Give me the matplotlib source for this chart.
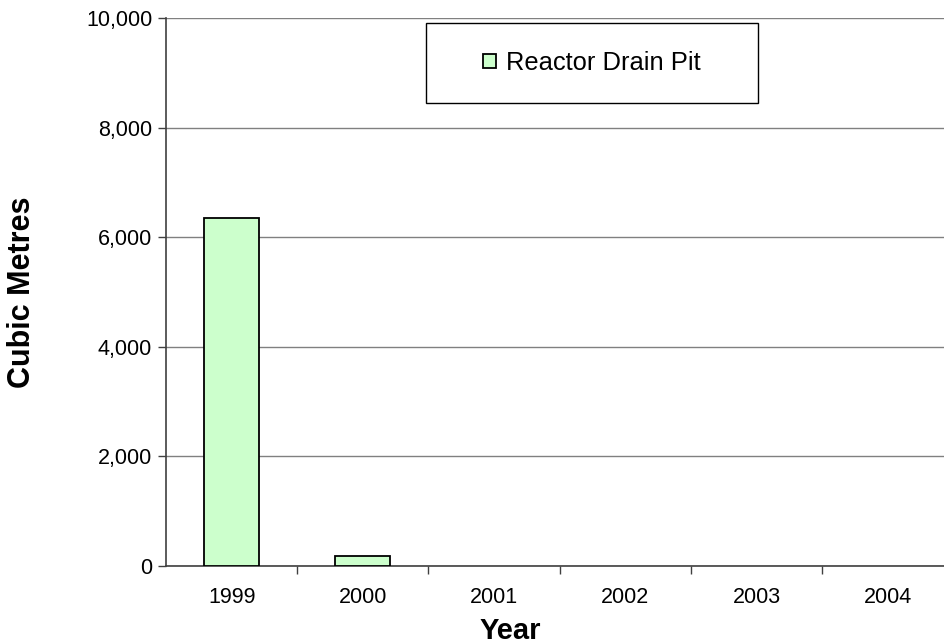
import numpy as np
import matplotlib.pyplot as plt
from matplotlib.patches import Rectangle
from matplotlib.ticker import FuncFormatter, FixedLocator

plt.rcParams['font.family'] = ['Liberation Sans', 'DejaVu Sans']

years = ['1999', '2000', '2001', '2002', '2003', '2004']
volumes = [6350, 180, 0, 0, 0, 0]
series_name = 'Reactor Drain Pit'

fig = plt.figure(figsize=(9.45, 6.44), dpi=100)
ax = fig.add_axes([0.1757, 0.1211, 0.8243, 0.8509])

x = np.arange(len(years))
# empty years have no visible bar outline in the original
edge_widths = [1.3 if v > 0 else 0 for v in volumes]
ax.bar(x, volumes, width=0.42, color='#CCFFCC', edgecolor='black',
       linewidth=edge_widths, label=series_name, zorder=3)

ax.set_xlim(-0.5, 5.437)
ax.set_ylim(0, 10000)
ax.set_yticks(np.arange(0, 10001, 2000))
ax.yaxis.set_major_formatter(FuncFormatter(lambda v, p: f'{int(v):,}'))
ax.grid(axis='y', color='#808080', linewidth=1.0, zorder=0)

ax.set_xticks(x)
ax.set_xticklabels(years)
ax.xaxis.set_minor_locator(FixedLocator(np.arange(0.5, 5.0, 1.0)))
ax.tick_params(axis='x', which='major', length=0, pad=15, labelsize=15.5)
ax.tick_params(axis='x', which='minor', length=6, width=1, color='#404040')
ax.tick_params(axis='y', length=6, width=1, color='#404040', pad=4, labelsize=15.5)

for s in ['top', 'right']:
    ax.spines[s].set_visible(False)
for s in ['left', 'bottom']:
    ax.spines[s].set_color('#404040')
    ax.spines[s].set_linewidth(1.2)

ax.set_xlabel('Year', fontsize=21, fontweight='bold')
ax.xaxis.set_label_coords(0.4416, -0.093)
ax.set_ylabel('Cubic Metres', fontsize=22, fontweight='bold')
ax.yaxis.set_label_coords(-0.1656, 0.5)

# legend box
lx, ly, lw, lh = 0.3338, 0.845, 0.4262, 0.1459
ax.add_patch(Rectangle((lx, ly), lw, lh, transform=ax.transAxes,
                       facecolor='white', edgecolor='black', linewidth=1.0,
                       zorder=4, clip_on=False))
leg = ax.legend(loc='center', bbox_to_anchor=(lx, ly, lw, lh), frameon=False,
                fontsize=18.4, handlelength=0.5, handleheight=0.5,
                handletextpad=0.4)
leg.set_zorder(5)
leg.legend_handles[0].set_linewidth(1.3)

fig.savefig('out.png', dpi=100)
